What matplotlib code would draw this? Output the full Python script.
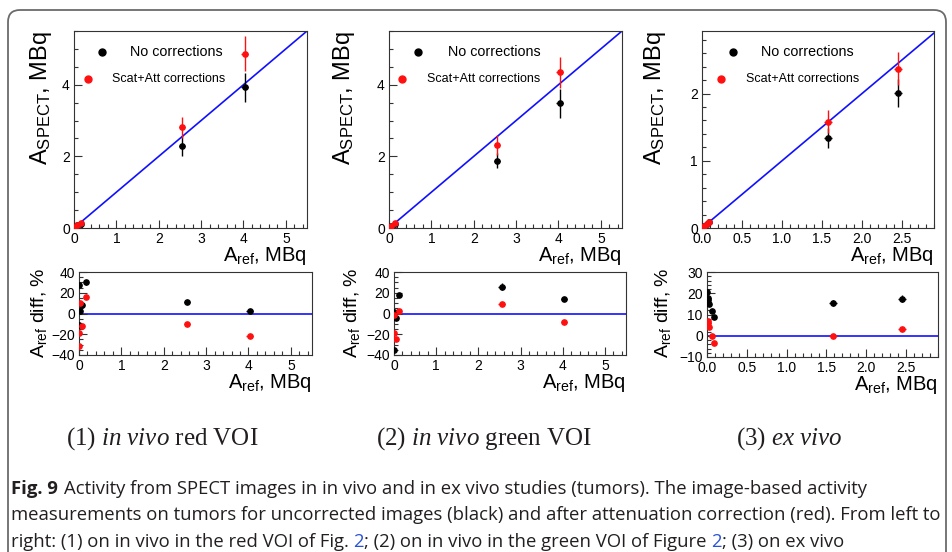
import matplotlib
matplotlib.use("Agg")
import matplotlib.pyplot as plt
from matplotlib.ticker import MultipleLocator
from matplotlib.patches import FancyBboxPatch
from matplotlib.transforms import IdentityTransform

plt.rcParams['font.family'] = 'Liberation Sans'
plt.rcParams['mathtext.fontset'] = 'custom'
plt.rcParams['mathtext.rm'] = 'Liberation Sans'
plt.rcParams['mathtext.it'] = 'Liberation Serif:italic'
plt.rcParams['axes.unicode_minus'] = True

# ---------------------------------------------------------------------------
# data
# ---------------------------------------------------------------------------
# (1) in vivo, red VOI
p1_ref = [0.005, 0.01, 0.02, 0.08, 0.16, 2.55, 4.03]
p1_ref_err = [0.01, 0.01, 0.01, 0.01, 0.01, 0.08, 0.08]
p1_nocorr = [0.004, 0.011, 0.02, 0.074, 0.11, 2.29, 3.93]
p1_nocorr_err = [0.005, 0.005, 0.005, 0.01, 0.02, 0.27, 0.41]
p1_corr = [0.007, 0.012, 0.018, 0.09, 0.134, 2.81, 4.87]
p1_corr_err = [0.005, 0.005, 0.005, 0.01, 0.02, 0.30, 0.50]
p1_diff_nocorr = [27, -11, 2, 8, 30, 10.7, 2.5]
p1_diff_nocorr_err = [1.5, 1.5, 1.5, 1.5, 2.5, 1.5, 1.2]
p1_diff_corr = [-31, -19, 10, -12, 16, -10.4, -21.5]
p1_diff_corr_err = [0.8, 0.8, 0.8, 0.8, 0.8, 0.8, 0.8]

# (2) in vivo, green VOI
p2_ref = [0.005, 0.01, 0.05, 0.13, 2.55, 4.03]
p2_ref_err = [0.01, 0.01, 0.01, 0.01, 0.08, 0.08]
p2_nocorr = [0.007, 0.01, 0.052, 0.107, 1.88, 3.48]
p2_nocorr_err = [0.005, 0.005, 0.005, 0.02, 0.20, 0.40]
p2_corr = [0.006, 0.01, 0.063, 0.127, 2.32, 4.35]
p2_corr_err = [0.005, 0.005, 0.005, 0.02, 0.27, 0.43]
p2_diff_nocorr = [-35, 1, -4, 18, 26, 13.6]
p2_diff_nocorr_err = [1.5, 1.5, 1.5, 1.5, 3.0, 1.5]
p2_diff_corr = [-19, -1, -25, 2, 9, -8]
p2_diff_corr_err = [0.8, 0.8, 0.8, 0.8, 0.8, 0.8]

# (3) ex vivo
p3_ref = [0.004, 0.008, 0.012, 0.03, 0.06, 0.09, 1.58, 2.45]
p3_ref_err = [0.005, 0.005, 0.005, 0.005, 0.005, 0.005, 0.05, 0.05]
p3_nocorr = [0.003, 0.007, 0.01, 0.026, 0.053, 0.082, 1.34, 2.01]
p3_nocorr_err = [0.003, 0.003, 0.003, 0.005, 0.005, 0.005, 0.15, 0.21]
p3_corr = [0.004, 0.0075, 0.011, 0.029, 0.06, 0.093, 1.58, 2.37]
p3_corr_err = [0.003, 0.003, 0.003, 0.005, 0.005, 0.005, 0.17, 0.25]
p3_diff_nocorr = [20.8, 18, 16.8, 14.8, 11.6, 9, 15.5, 17.5]
p3_diff_nocorr_err = [1.0, 1.0, 1.0, 1.0, 1.0, 1.0, 1.5, 1.5]
p3_diff_corr = [5, 6, 7, 4.2, 0, -3.6, 0, 3.3]
p3_diff_corr_err = [0.5, 0.5, 0.5, 0.5, 0.5, 0.5, 0.5, 0.5]

legend_labels = ['No corrections', 'Scat+Att corrections']
panel_titles = [
    r'(1) $\mathit{in\ vivo}$ red VOI',
    r'(2) $\mathit{in\ vivo}$ green VOI',
    r'(3) $\mathit{ex\ vivo}$',
]

# ---------------------------------------------------------------------------
W, H = 953, 552
fig = plt.figure(figsize=(W / 100, H / 100), dpi=100)
fig.patch.set_facecolor('white')

# rounded frame round the figure block
frame = FancyBboxPatch((8, -40), 938, H - 10 + 40,
                       boxstyle='round,pad=0,rounding_size=12',
                       transform=IdentityTransform(), fill=False,
                       ec='#6b6b6b', lw=1.3)
fig.add_artist(frame)

SPINE = '#333333'


def ax_px(l, r, t, b):
    return fig.add_axes([l / W, 1 - b / H, (r - l) / W, (b - t) / H])


def style(ax, xmaj, xmin, ymaj, ymin):
    ax.xaxis.set_major_locator(MultipleLocator(xmaj))
    ax.xaxis.set_minor_locator(MultipleLocator(xmin))
    ax.yaxis.set_major_locator(MultipleLocator(ymaj))
    ax.yaxis.set_minor_locator(MultipleLocator(ymin))
    ax.tick_params(which='both', direction='in', top=False, right=False,
                   color=SPINE, width=0.8, labelsize=10, pad=3)
    ax.tick_params(which='major', length=6)
    ax.tick_params(which='minor', length=3)
    for s in ax.spines.values():
        s.set_color(SPINE)
        s.set_linewidth(0.8)


def draw_panel(top_box, bot_box, ref, ref_err, nc, nc_err, sc, sc_err,
               dnc, dnc_err, dsc, dsc_err, xmax, ymax, dlim,
               xmaj, xmin, ymaj, ymin, dmaj, dmin,
               leg, ylab_x, dylab_x):
    # --- top: measured vs reference activity
    ax = ax_px(*top_box)
    ax.axline((0, 0), slope=1, color='#1010ff', lw=1.2, zorder=1)
    ax.errorbar(ref, nc, yerr=nc_err, xerr=ref_err, fmt='o', color='black',
                ms=3.8, elinewidth=1, capsize=0, zorder=3)
    ax.errorbar(ref, sc, yerr=sc_err, xerr=ref_err, fmt='o', color='#ff1010',
                ms=3.8, elinewidth=1, capsize=0, zorder=4)
    ax.set_xlim(0, xmax)
    ax.set_ylim(0, ymax)
    style(ax, xmaj, xmin, ymaj, ymin)
    ax.set_ylabel(r'$\mathregular{A_{SPECT}}$, MBq', fontsize=17, loc='top')
    ax.yaxis.set_label_coords(ylab_x, 1.0)
    ax.set_xlabel(r'$\mathregular{A_{ref}}$, MBq', fontsize=14.5, loc='right')
    ax.xaxis.set_label_coords(1.0, -0.085)

    # legend (no frame, ROOT style)
    bx, tx, rx, rtx = leg
    ax.plot([bx], [0.893], 'o', color='black', ms=5, transform=ax.transAxes,
            clip_on=False)
    ax.text(tx, 0.893, legend_labels[0], transform=ax.transAxes,
            va='center', fontsize=10.3)
    ax.plot([rx], [0.756], 'o', color='#ff1010', ms=5,
            transform=ax.transAxes, clip_on=False)
    ax.text(rtx, 0.756, legend_labels[1], transform=ax.transAxes,
            va='center', fontsize=9)

    # --- bottom: relative difference
    bx_ = ax_px(*bot_box)
    bx_.axhline(0, color='#1010ff', lw=1.2, zorder=1)
    bx_.errorbar(ref, dnc, yerr=dnc_err, xerr=ref_err, fmt='o', color='black',
                 ms=3.8, elinewidth=1, capsize=0, zorder=3)
    bx_.errorbar(ref, dsc, yerr=dsc_err, xerr=ref_err, fmt='o',
                 color='#ff1010', ms=3.8, elinewidth=1, capsize=0, zorder=4)
    bx_.set_xlim(0, xmax)
    bx_.set_ylim(*dlim)
    style(bx_, xmaj, xmin, dmaj, dmin)
    bx_.set_ylabel(r'$\mathregular{A_{ref}}$ diff, %', fontsize=14,
                   loc='top')
    bx_.yaxis.set_label_coords(dylab_x, 1.05)
    bx_.set_xlabel(r'$\mathregular{A_{ref}}$, MBq', fontsize=14.5,
                   loc='right')
    bx_.xaxis.set_label_coords(1.0, -0.2)


draw_panel((74, 307, 31, 228), (79, 312, 272, 355),
           p1_ref, p1_ref_err, p1_nocorr, p1_nocorr_err, p1_corr, p1_corr_err,
           p1_diff_nocorr, p1_diff_nocorr_err, p1_diff_corr, p1_diff_corr_err,
           5.5, 5.5, (-40, 40), 1, 0.2, 2, 0.5, 20, 5,
           (0.12, 0.24, 0.06, 0.163), -0.086, -0.13)

draw_panel((389, 622, 31, 228), (394, 626, 272, 355),
           p2_ref, p2_ref_err, p2_nocorr, p2_nocorr_err, p2_corr, p2_corr_err,
           p2_diff_nocorr, p2_diff_nocorr_err, p2_diff_corr, p2_diff_corr_err,
           5.5, 5.5, (-40, 40), 1, 0.2, 2, 0.5, 20, 5,
           (0.124, 0.253, 0.056, 0.163), -0.137, -0.137)

draw_panel((702, 934, 31, 228), (707, 938, 272, 357),
           p3_ref, p3_ref_err, p3_nocorr, p3_nocorr_err, p3_corr, p3_corr_err,
           p3_diff_nocorr, p3_diff_nocorr_err, p3_diff_corr, p3_diff_corr_err,
           2.9, 2.93, (-10, 30), 0.5, 0.1, 1, 0.2, 10, 2,
           (0.134, 0.254, 0.082, 0.19), -0.147, -0.147)

# panel captions (serif)
for title, cx in zip(panel_titles, [162, 484, 789]):
    fig.text(cx / W, 1 - 445 / H, title, ha='center', va='baseline',
             fontsize=18, family='Liberation Serif', color='#231f20')

# ---------------------------------------------------------------------------
# figure caption
# ---------------------------------------------------------------------------
CAP_FONT = ['Liberation Sans Narrow', 'Open Sans']
CAP_COL = '#231f20'
LINK_COL = '#2a52d6'
fig.canvas.draw()
rend = fig.canvas.get_renderer()


def text_w(s, size, weight='normal'):
    t = fig.text(0, 0, s, fontsize=size, family=CAP_FONT, fontweight=weight)
    w = t.get_window_extent(rend).width
    t.remove()
    return w


line1_head = 'Fig. 9'
line1_rest = ('Activity from SPECT images in in vivo and in ex vivo studies '
              '(tumors). The image-based activity')
line2 = ('measurements on tumors for uncorrected images (black) and after '
         'attenuation correction (red). From left to')
line3_a = 'right: (1) on in vivo in the red VOI of Fig.'
line3_b = '; (2) on in vivo in the green VOI of Figure'
line3_c = '; (3) on ex vivo'

cap_size = 10 * 928 / text_w(line2, 10)
x0 = 11


def put(x, y, s, color=CAP_COL, weight='normal'):
    fig.text(x / W, 1 - y / H, s, fontsize=cap_size, family=CAP_FONT,
             color=color, fontweight=weight, va='baseline', ha='left')


y1, y2, y3 = 494, 520, 547
put(x0, y1, line1_head, weight='bold')
put(x0 + text_w(line1_head, cap_size, 'bold') + 0.32 * cap_size * 100 / 72,
    y1, line1_rest)
put(x0, y2, line2)

put(x0, y3, line3_a)
pre = line3_a + ' 2'
put(x0 + text_w(pre, cap_size) - text_w('2', cap_size), y3, '2', LINK_COL)
put(x0 + text_w(pre, cap_size), y3, line3_b)
pre = pre + line3_b + ' 2'
put(x0 + text_w(pre, cap_size) - text_w('2', cap_size), y3, '2', LINK_COL)
put(x0 + text_w(pre, cap_size), y3, line3_c)

fig.savefig('out.png', dpi=100, facecolor='white')
